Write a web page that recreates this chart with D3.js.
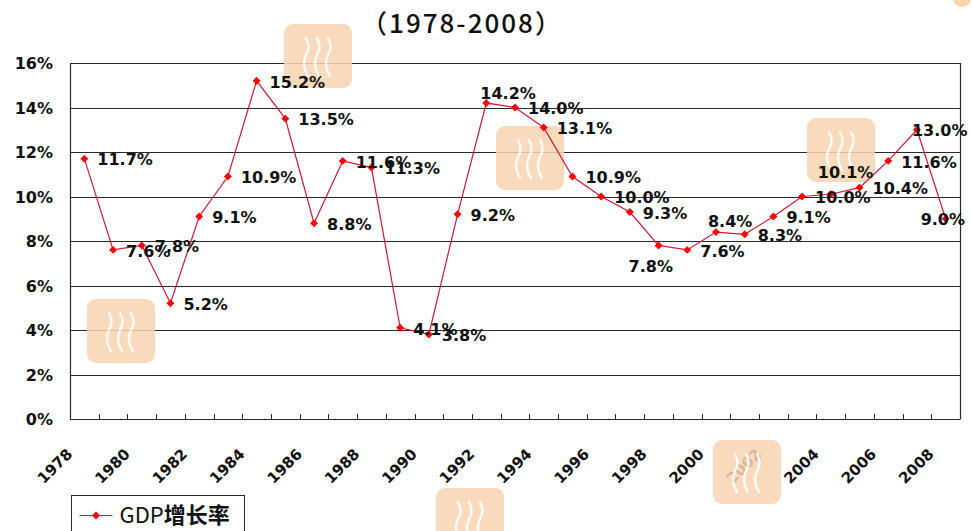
<!DOCTYPE html>
<html>
<head>
<meta charset="utf-8">
<script src="https://cdn.jsdelivr.net/npm/d3@7"></script>
<style>
  html, body { margin: 0; padding: 0; background: #ffffff; }
  svg { display: block; }
</style>
</head>
<body>
<svg id="chart" width="972" height="531"></svg>
<script>
// ---------------- DATA ----------------
const years = [1978, 1979, 1980, 1981, 1982, 1983, 1984, 1985, 1986, 1987, 1988,
               1989, 1990, 1991, 1992, 1993, 1994, 1995, 1996, 1997, 1998, 1999,
               2000, 2001, 2002, 2003, 2004, 2005, 2006, 2007, 2008];
const gdpGrowth = [11.7, 7.6, 7.8, 5.2, 9.1, 10.9, 15.2, 13.5, 8.8, 11.6, 11.3,
                   4.1, 3.8, 9.2, 14.2, 14.0, 13.1, 10.9, 10.0, 9.3, 7.8, 7.6,
                   8.4, 8.3, 9.1, 10.0, 10.1, 10.4, 11.6, 13.0, 9.0];
const yTicks = [0, 2, 4, 6, 8, 10, 12, 14, 16];
const xTickLabels = [1978, 1980, 1982, 1984, 1986, 1988, 1990, 1992, 1994, 1996,
                     1998, 2000, 2002, 2004, 2006, 2008];
const titleText = "（1978-2008）";
const seriesName = "GDP增长率";

// ---------------- LAYOUT ----------------
const svg = d3.select("#chart");
const plot = { left: 70, right: 960, top: 63, bottom: 419 };
const fontNum = "'DejaVu Sans', sans-serif";
const fontCJK = "'Noto Sans CJK SC', sans-serif";

const x = d3.scaleBand().domain(years).range([plot.left, plot.right]).paddingInner(0).paddingOuter(0);
const y = d3.scaleLinear().domain([0, 16]).range([plot.bottom, plot.top]);
const cx = d => x(d) + x.bandwidth() / 2;

// label placement tweaks (layout only)
const labelOffset = {
  1992: { dx: -6, dy: -10 },
  1998: { dx: -30, dy: 21 },
  2000: { dx: -8, dy: -11 },
  2004: { dx: -13, dy: -22 },
  2007: { dx: -5, dy: 0 },
  2008: { dx: -25, dy: 0 }
};

// Title
svg.append("text")
  .attr("x", 462).attr("y", 33)
  .attr("text-anchor", "middle")
  .attr("font-family", fontCJK)
  .attr("font-size", 26)
  .attr("font-weight", 500)
  .attr("letter-spacing", 2)
  .attr("fill", "#111")
  .text(titleText);

// Gridlines
const grid = svg.append("g");
grid.selectAll("line").data(yTicks).join("line")
  .attr("x1", plot.left).attr("x2", plot.right)
  .attr("y1", d => Math.round(y(d)) + 0.5).attr("y2", d => Math.round(y(d)) + 0.5)
  .attr("stroke", "#2a2a2a").attr("stroke-width", 1.2);

// Plot border: left axis + right border
svg.append("line")
  .attr("x1", plot.left + 0.5).attr("x2", plot.left + 0.5)
  .attr("y1", plot.top).attr("y2", plot.bottom + 0.5)
  .attr("stroke", "#2a2a2a").attr("stroke-width", 1.2);
svg.append("line")
  .attr("x1", plot.right + 0.5).attr("x2", plot.right + 0.5)
  .attr("y1", plot.top).attr("y2", plot.bottom + 0.5)
  .attr("stroke", "#2a2a2a").attr("stroke-width", 1.2);

// Y axis labels
const yAxis = d3.axisLeft(y).tickValues(yTicks).tickSize(0).tickPadding(0).tickFormat(d => d + "%");
const yg = svg.append("g").attr("transform", `translate(${plot.left - 17},0)`).call(yAxis);
yg.select(".domain").remove();
yg.selectAll("text")
  .attr("font-family", fontNum).attr("font-weight", "bold")
  .attr("font-size", 16).attr("fill", "#111").attr("dy", "0.36em");

// X axis tick marks (between categories, pointing up)
const boundaries = years.slice(1).map(d => x(d));
svg.append("g").selectAll("line").data(boundaries).join("line")
  .attr("x1", d => Math.round(d) + 0.5).attr("x2", d => Math.round(d) + 0.5)
  .attr("y1", plot.bottom - 5).attr("y2", plot.bottom)
  .attr("stroke", "#2a2a2a").attr("stroke-width", 1);

// X axis labels (rotated)
svg.append("g").selectAll("text").data(xTickLabels).join("text")
  .attr("transform", d => `translate(${cx(d) - 11},${plot.bottom + 36}) rotate(-45)`)
  .attr("text-anchor", "end")
  .attr("font-family", fontNum).attr("font-weight", "bold")
  .attr("font-size", 15).attr("fill", "#111")
  .text(d => d);

// Watermarks (decorative, as seen in the reference picture)
const marks = [[284, 24], [496, 126], [807, 118], [87, 299], [713, 440], [436, 488]];
const wm = svg.append("g");
marks.forEach(([mx, my]) => {
  const g = wm.append("g").attr("transform", `translate(${mx},${my})`);
  g.append("rect").attr("width", 68).attr("height", 64).attr("rx", 9)
    .attr("fill", "#f8d4b0").attr("opacity", 0.85);
  [22, 33, 44].forEach(ox => {
    g.append("path")
      .attr("d", `M${ox},14 q5,9 0,17 q-5,10 2,21`)
      .attr("fill", "none").attr("stroke", "#ffffff").attr("stroke-width", 2.5)
      .attr("stroke-linecap", "round").attr("opacity", 0.85);
  });
});
svg.append("circle").attr("cx", 962).attr("cy", -2).attr("r", 9).attr("fill", "#f8c99a").attr("opacity", 0.8);

// Series line
const pts = years.map((yr, i) => ({ yr, v: gdpGrowth[i] }));
const line = d3.line().x(d => cx(d.yr)).y(d => y(d.v));
svg.append("path").datum(pts)
  .attr("d", line).attr("fill", "none")
  .attr("stroke", "#d0183a").attr("stroke-width", 1.2);

// Markers
const diamond = d3.symbol().type(d3.symbolDiamond2 || d3.symbolDiamond).size(40);
svg.append("g").selectAll("path").data(pts).join("path")
  .attr("transform", d => `translate(${cx(d.yr)},${y(d.v)})`)
  .attr("d", diamond).attr("fill", "#ff0000");

// Data labels
svg.append("g").selectAll("text").data(pts).join("text")
  .attr("x", d => cx(d.yr) + (labelOffset[d.yr] ? labelOffset[d.yr].dx : 13))
  .attr("y", d => y(d.v) + (labelOffset[d.yr] ? labelOffset[d.yr].dy : 1))
  .attr("dy", "0.36em")
  .attr("font-family", fontNum).attr("font-weight", "bold")
  .attr("font-size", 16).attr("fill", "#111")
  .text(d => d.v.toFixed(1) + "%");

// Legend
const lg = svg.append("g").attr("transform", "translate(71.5,495.5)");
lg.append("rect").attr("width", 173).attr("height", 45)
  .attr("fill", "#fff").attr("stroke", "#2a2a2a").attr("stroke-width", 1);
lg.append("line").attr("x1", 8).attr("x2", 41).attr("y1", 20).attr("y2", 20)
  .attr("stroke", "#d0183a").attr("stroke-width", 1.2);
lg.append("path").attr("transform", "translate(24.5,20)").attr("d", diamond).attr("fill", "#ff0000");
const lt = lg.append("text").attr("x", 48).attr("y", 20).attr("dy", "0.36em")
  .attr("font-family", fontCJK).attr("font-size", 22).attr("fill", "#111");
lt.append("tspan").text(seriesName.slice(0, 3));
lt.append("tspan").attr("font-weight", "bold").text(seriesName.slice(3));
</script>
</body>
</html>
